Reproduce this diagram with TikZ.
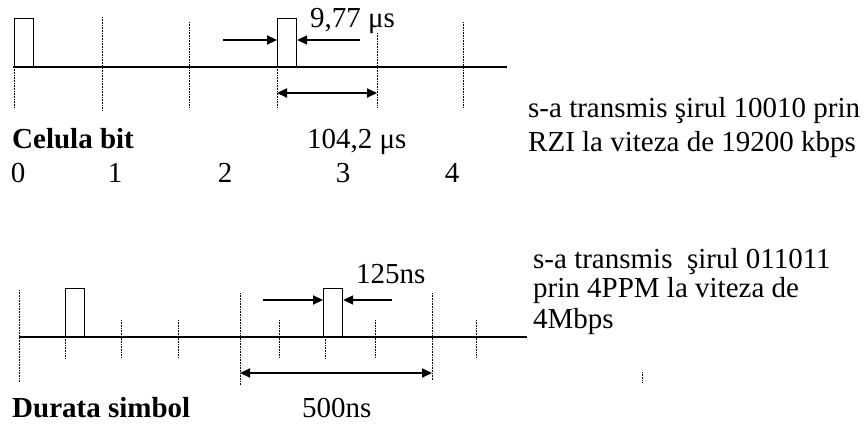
\documentclass[tikz,border=0pt]{standalone}
\usepackage{fontspec}
\setmainfont{Liberation Serif}
\usetikzlibrary{arrows.meta}
\begin{document}
\begin{tikzpicture}[x=1pt,y=-1pt,
  txt/.style={inner sep=0pt,anchor=base west,font=\fontsize{29}{34}\selectfont},
  btxt/.style={txt,font=\fontsize{29}{34}\selectfont\bfseries},
  axis/.style={line width=1.4pt},
  tick/.style={line width=1pt,dash pattern=on 1pt off 0.6pt},
  pulse/.style={draw,line width=1.2pt,inner sep=0pt,minimum width=19pt,minimum height=48pt,anchor=south west},
  arr/.style={line width=2pt,-{Triangle[length=10pt,width=9pt]}},
  darr/.style={line width=2pt,{Triangle[length=10pt,width=9pt]}-{Triangle[length=10pt,width=9pt]}}]
\useasboundingbox (0,0) rectangle (867,424);
% ---- top diagram (RZI)
\draw[axis] (13,67) -- (507,67);
\draw[tick] (14,67) -- (14,108);
\draw[tick] (102,17) -- (102,110);
\draw[tick] (189,22) -- (189,108);
\draw[tick] (277,67) -- (277,108);
\draw[tick] (377,33) -- (377,108);
\draw[tick] (463,22) -- (463,108);
\node[pulse] (p1) at (14,67) {};
\node[pulse] (p2) at (277,67) {};
\coordinate (la) at (223,40);
\coordinate (ra) at (360,40);
\draw[arr] (la) -- (la -| p2.west);
\draw[arr] (ra) -- (ra -| p2.east);
\coordinate (d1) at (277,93);
\coordinate (d2) at (377,93);
\draw[darr] (d1) -- (d2);
\node[txt] (w1) at (310,27) {9,77 μs};
\node[btxt] (cb) at (12,148) {Celula bit};
\node[txt] (bw) at (307,148) {104,2 μs};
\node[txt,anchor=base] (n0) at (18,182) {0};
\node[txt,anchor=base] (n1) at (115,182) {1};
\node[txt,anchor=base] (n2) at (225,182) {2};
\node[txt,anchor=base] (n3) at (343,182) {3};
\node[txt,anchor=base] (n4) at (452,182) {4};
\node[txt] (r1) at (528,117) {s-a transmis şirul 10010 prin};
\node[txt] (r2) at (528,151) {RZI la viteza de 19200 kbps};
% ---- bottom diagram (4PPM)
\draw[axis] (19,337) -- (527,337);
\draw[tick] (19,290) -- (19,382);
\draw[tick] (65,337) -- (65,358);
\draw[tick] (121,320) -- (121,358);
\draw[tick] (178,320) -- (178,358);
\draw[tick] (240,293) -- (240,385);
\draw[tick] (279,320) -- (279,358);
\draw[tick] (325,337) -- (325,358);
\draw[tick] (375,320) -- (375,358);
\draw[tick] (432,293) -- (432,380);
\draw[tick] (476,320) -- (476,358);
\draw[tick] (642,372) -- (642,383);
\node[pulse] (q1) at (65,337) {};
\node[pulse] (q2) at (323,337) {};
\coordinate (lb) at (263,300);
\coordinate (rb) at (392,300);
\draw[arr] (lb) -- (lb -| q2.west);
\draw[arr] (rb) -- (rb -| q2.east);
\coordinate (e1) at (240,373);
\coordinate (e2) at (432,373);
\draw[darr] (e1) -- (e2);
\node[txt] (w2) at (356,283) {125ns};
\node[btxt] (ds) at (12,417) {Durata simbol};
\node[txt] (sw) at (302,417) {500ns};
\node[txt] (s1) at (533,268) {s-a transmis\ \ şirul 011011};
\node[txt] (s2) at (533,297) {prin 4PPM la viteza de};
\node[txt] (s3) at (533,328) {4Mbps};
\end{tikzpicture}
\end{document}
